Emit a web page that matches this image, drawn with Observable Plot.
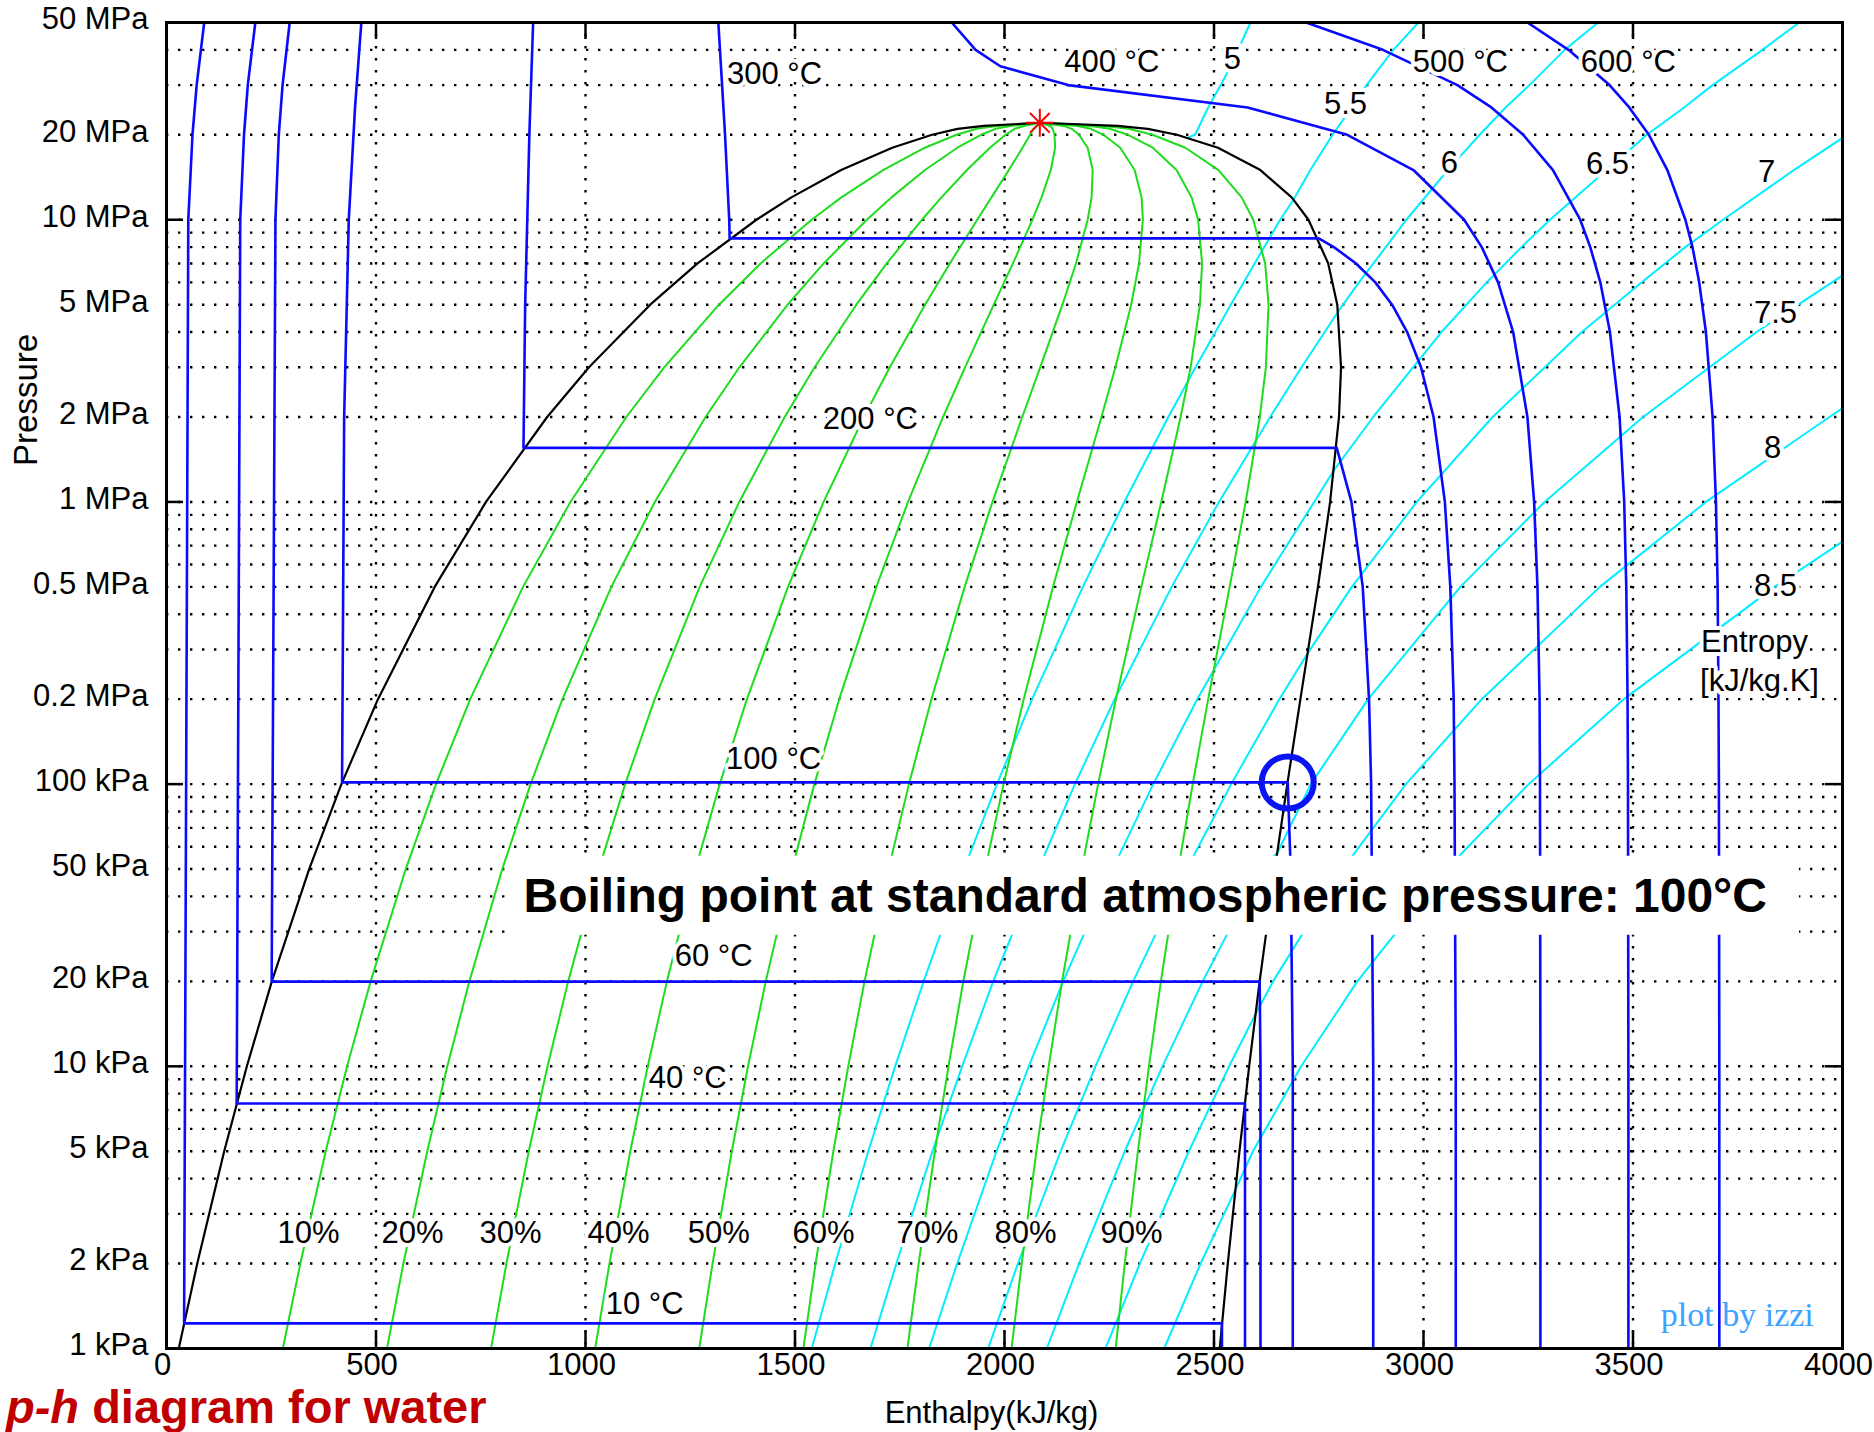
<!DOCTYPE html>
<html>
<head>
<meta charset="utf-8">
<script src="https://cdn.jsdelivr.net/npm/d3@7"></script>
<script src="https://cdn.jsdelivr.net/npm/@observablehq/plot@0.6"></script>
<style>
  body { margin: 0; background: #fff; }
  #wrap { position: relative; width: 1874px; height: 1432px; overflow: hidden; background: #fff; }
  #title { position: absolute; left: 6px; top: 1383px; font: bold 47px 'Liberation Sans', Arial, sans-serif; color: #c00000; line-height: 47px; white-space: nowrap; }
  svg text { paint-order: stroke; }
</style>
</head>
<body>
<div id="wrap"><div id="chart"></div><div id="title"><i>p-h</i> diagram for water</div></div>
<script>
// ---------- axes ----------
const xTickValues = [0, 500, 1000, 1500, 2000, 2500, 3000, 3500, 4000];
const yTickValues = [1, 2, 5, 10, 20, 50, 100, 200, 500, 1000, 2000, 5000, 10000, 20000, 50000];
const yTickLabels = ["1 kPa", "2 kPa", "5 kPa", "10 kPa", "20 kPa", "50 kPa", "100 kPa", "0.2 MPa", "0.5 MPa", "1 MPa", "2 MPa", "5 MPa", "10 MPa", "20 MPa", "50 MPa"];
const yMajorTicks = [10, 100, 1000, 10000];
const xAxisLabel = "Enthalpy(kJ/kg)";
const yAxisLabel = "Pressure";
const yAxisLabelP = 2300;

// ---------- saturation dome (P in kPa, h in kJ/kg) ----------
const satP  = [1, 2, 5, 10, 20, 50, 100, 200, 500, 1000, 2000, 3000, 5000, 7000, 10000, 12000, 15000, 18000, 20000, 21000, 21500, 22064];
const satHf = [29.3, 73.4, 137.7, 191.8, 251.4, 340.5, 417.4, 504.7, 640.1, 762.5, 908.5, 1008.3, 1154.5, 1267.4, 1407.9, 1491.3, 1610.2, 1732.0, 1827.2, 1888, 1950, 2084.3];
const satHg = [2513.7, 2532.9, 2560.7, 2583.9, 2608.9, 2645.2, 2674.9, 2706.2, 2748.1, 2777.1, 2798.3, 2803.2, 2794.2, 2772.6, 2725.5, 2685.4, 2610.7, 2509.5, 2411.4, 2342, 2270, 2084.3];
const criticalH = 2084.3, criticalP = 22064;

// ---------- quality lines (h at each satP) ----------
const q10 = [277.7, 319.4, 380.0, 431.0, 487.2, 571.0, 643.2, 724.9, 850.9, 964.0, 1097.5, 1187.8, 1318.5, 1417.9, 1539.7, 1610.7, 1710.3, 1809.8, 1885.6, 1933.4, 1982, 2084.3];
const q20 = [526.2, 565.3, 622.3, 670.2, 722.9, 801.4, 868.9, 945.0, 1061.7, 1165.4, 1286.5, 1367.3, 1482.4, 1568.4, 1671.4, 1730.1, 1810.3, 1887.5, 1944.0, 1978.8, 2014, 2084.3];
const q30 = [774.6, 811.3, 864.6, 909.4, 958.7, 1031.9, 1094.7, 1165.2, 1272.5, 1366.9, 1475.4, 1546.8, 1646.4, 1719.0, 1803.2, 1849.5, 1910.4, 1965.3, 2002.5, 2024.2, 2046, 2084.3];
const q40 = [1023.1, 1057.2, 1106.9, 1148.6, 1194.4, 1262.4, 1320.4, 1385.3, 1483.3, 1568.3, 1664.4, 1726.3, 1810.4, 1869.5, 1934.9, 1968.9, 2010.4, 2043.0, 2060.9, 2069.6, 2078, 2084.3];
const q50 = [1271.5, 1303.2, 1349.2, 1387.9, 1430.2, 1492.9, 1546.2, 1605.5, 1694.1, 1769.8, 1853.4, 1905.8, 1974.4, 2020.0, 2066.7, 2088.4, 2110.5, 2120.8, 2119.3, 2115.0, 2110, 2084.3];
const q60 = [1519.9, 1549.1, 1591.5, 1627.1, 1665.9, 1723.3, 1771.9, 1825.6, 1904.9, 1971.3, 2042.4, 2085.2, 2138.3, 2170.5, 2198.5, 2207.8, 2210.5, 2198.5, 2177.7, 2160.4, 2142, 2084.3];
const q70 = [1768.4, 1795.1, 1833.8, 1866.3, 1901.7, 1953.8, 1997.7, 2045.8, 2115.7, 2172.7, 2231.4, 2264.7, 2302.3, 2321.0, 2330.2, 2327.2, 2310.6, 2276.3, 2236.1, 2205.8, 2174, 2084.3];
const q80 = [2016.8, 2041.0, 2076.1, 2105.5, 2137.4, 2184.3, 2223.4, 2265.9, 2326.5, 2374.2, 2420.3, 2444.2, 2466.3, 2471.6, 2462.0, 2446.6, 2410.6, 2354.0, 2294.6, 2251.2, 2206, 2084.3];
const q90 = [2265.3, 2287.0, 2318.4, 2344.7, 2373.2, 2414.7, 2449.2, 2486.1, 2537.3, 2575.6, 2609.3, 2623.7, 2630.2, 2622.1, 2593.7, 2566.0, 2510.7, 2431.8, 2353.0, 2296.6, 2238, 2084.3];
const qualityNames = ["10%", "20%", "30%", "40%", "50%", "60%", "70%", "80%", "90%"];
const qualityLabelH = [339, 587, 821, 1079, 1318, 1568, 1816, 2050, 2303];
const qualityLabelP = 2.56;

// ---------- isotherms ----------
const iso10H = [90, 72, 62, 52, 42, 2519, 2519];
const iso10P = [50000, 30000, 20000, 10000, 1.228, 1.228, 1];
const iso40H = [212, 194, 185, 176, 167.5, 2574, 2574];
const iso40P = [50000, 30000, 20000, 10000, 7.38, 7.38, 1];
const iso60H = [294, 277, 268, 260, 251, 2609, 2611, 2611];
const iso60P = [50000, 30000, 20000, 10000, 19.95, 19.95, 10, 1];
const iso100H = [465, 450, 435, 424, 419, 2676, 2683, 2688, 2688];
const iso100P = [50000, 25000, 10000, 2000, 101.4, 101.4, 50, 10, 1];
const iso200H = [875, 866, 861, 856, 852, 2793, 2828, 2855, 2870, 2875, 2880, 2880];
const iso200P = [50000, 20000, 10000, 5000, 1555, 1555, 1000, 500, 200, 100, 10, 1];
const iso300H = [1317, 1326, 1333, 1343, 1344, 2750, 2786, 2839, 2885, 2925, 2961, 2994, 3024, 3051, 3064, 3072, 3074, 3077, 3077];
const iso300P = [50000, 30000, 20000, 10000, 8588, 8588, 8000, 7000, 6000, 5000, 4000, 3000, 2000, 1000, 500, 200, 100, 10, 1];
const iso400H = [1874, 1931, 1990, 2152, 2580, 2818, 2976, 3097, 3139, 3178, 3214, 3248, 3264, 3272, 3277, 3278, 3279, 3279];
const iso400P = [50000, 40000, 35000, 30000, 25000, 20000, 15000, 10000, 8000, 6000, 4000, 2000, 1000, 500, 200, 100, 10, 1];
const iso500H = [2720, 2903, 3081, 3162, 3238, 3309, 3374, 3398, 3422, 3445, 3468, 3479, 3484, 3487, 3488, 3489, 3489];
const iso500P = [50000, 40000, 30000, 25000, 20000, 15000, 10000, 8000, 6000, 4000, 2000, 1000, 500, 200, 100, 10, 1];
const iso600H = [3248, 3346, 3444, 3491, 3538, 3582, 3625, 3642, 3658, 3674, 3690, 3698, 3702, 3704, 3705, 3706, 3706];
const iso600P = [50000, 40000, 30000, 25000, 20000, 15000, 10000, 8000, 6000, 4000, 2000, 1000, 500, 200, 100, 10, 1];

// ---------- isentropes (s in kJ/kg.K) ----------
const s50H = [2587, 2540, 2516, 2486, 2455, 2436];
const s50P = [50000, 35000, 30000, 25000, 20000, 19500];
const s55H = [2988, 2928, 2864, 2829, 2783, 2730, 2690, 2658, 2597, 2540, 2456, 2391, 2286, 2187, 2066, 1982, 1903, 1807, 1739, 1675, 1596, 1540];
const s55P = [50000, 40000, 30000, 25000, 20000, 15000, 11800, 10000, 7000, 5000, 3000, 2000, 1000, 500, 200, 100, 50, 20, 10, 5, 2, 1];
const s60H = [3417, 3337, 3253, 3196, 3134, 3058, 2959, 2910, 2846, 2808, 2796, 2709, 2634, 2512, 2399, 2263, 2168, 2081, 1973, 1899, 1828, 1742, 1680];
const s60P = [50000, 40000, 30000, 25000, 20000, 15000, 10000, 8000, 6000, 5000, 4720, 3000, 2000, 1000, 500, 200, 100, 50, 20, 10, 5, 2, 1];
const s65H = [3897, 3809, 3690, 3622, 3533, 3437, 3302, 3234, 3151, 3043, 2880, 2787, 2739, 2612, 2460, 2355, 2258, 2140, 2058, 1981, 1887, 1820];
const s65P = [50000, 40000, 30000, 25000, 20000, 15000, 10000, 8000, 6000, 4000, 2000, 1300, 1000, 500, 200, 100, 50, 20, 10, 5, 2, 1];
const s70H = [4000, 3884, 3715, 3625, 3521, 3378, 3165, 2984, 2829, 2723, 2656, 2541, 2435, 2307, 2217, 2134, 2032, 1961];
const s70P = [19500, 15000, 10000, 8000, 6000, 4000, 2000, 1000, 500, 290, 200, 100, 50, 20, 10, 5, 2, 1];
const s75H = [4000, 3975, 3795, 3524, 3289, 3088, 2868, 2731, 2651, 2612, 2473, 2377, 2287, 2178, 2101];
const s75P = [6350, 6000, 4000, 2000, 1000, 500, 200, 100, 57, 50, 20, 10, 5, 2, 1];
const s80H = [4000, 3969, 3674, 3421, 3139, 2958, 2807, 2641, 2599, 2536, 2440, 2323, 2241];
const s80P = [2150, 2000, 1000, 500, 200, 100, 50, 20, 15.3, 10, 5, 2, 1];
const s85H = [4000, 3838, 3478, 3251, 3055, 2842, 2708, 2593, 2553, 2468, 2381];
const s85P = [723, 500, 200, 100, 50, 20, 10, 5, 3.7, 2, 1];

// ---------- labels (placed at data coordinates) ----------
const isoLabelText = ["300 °C", "400 °C", "500 °C", "600 °C", "200 °C", "100 °C", "60 °C", "40 °C", "10 °C"];
const isoLabelH    = [1451, 2256, 3088, 3489, 1680, 1449, 1306, 1244, 1141];
const isoLabelP    = [32700, 36300, 36300, 36300, 1970, 123, 24.6, 9.07, 1.44];
const sLabelText = ["5", "5.5", "6", "6.5", "7", "7.5", "8", "8.5", "Entropy", "[kJ/kg.K]"];
const sLabelH    = [2544, 2814, 3062, 3439, 3819, 3840, 3833, 3840, 3790, 3802];
const sLabelP    = [37200, 25600, 15900, 15700, 14700, 4680, 1550, 504, 319, 232];
const creditText = "plot by izzi";
const creditH = 3749, creditP = 1.31;
const boilText = "Boiling point at standard atmospheric pressure: 100°C";
const boilTextH = 852, boilTextP = 40;
const boilCircleH = 2676, boilCircleP = 101.4;

// ---------- build rows ----------
const rows = (name, H, P) => H.map((h, i) => ({name, h, p: P[i]}));
const domeRows = [
  ...rows("liq", satHf, satP),
  ...rows("vap", satHg.slice().reverse(), satP.slice().reverse())
];
const qualityArrays = [q10, q20, q30, q40, q50, q60, q70, q80, q90];
const qualityRows = qualityArrays.flatMap((q, k) => rows(qualityNames[k], q, satP));
const isoRows = [
  rows("10", iso10H, iso10P), rows("40", iso40H, iso40P), rows("60", iso60H, iso60P),
  rows("100", iso100H, iso100P), rows("200", iso200H, iso200P), rows("300", iso300H, iso300P),
  rows("400", iso400H, iso400P), rows("500", iso500H, iso500P), rows("600", iso600H, iso600P)
].flat();
const sRows = [
  rows("5", s50H, s50P), rows("5.5", s55H, s55P), rows("6", s60H, s60P), rows("6.5", s65H, s65P),
  rows("7", s70H, s70P), rows("7.5", s75H, s75P), rows("8", s80H, s80P), rows("8.5", s85H, s85P)
].flat();
const isoLabels = isoLabelText.map((t, i) => ({t, h: isoLabelH[i], p: isoLabelP[i]}));
const sLabels = sLabelText.map((t, i) => ({t, h: sLabelH[i], p: sLabelP[i]}));
const qLabels = qualityNames.map((t, i) => ({t, h: qualityLabelH[i], p: qualityLabelP}));
const yTicks = yTickValues.map((v, i) => ({v, label: yTickLabels[i]}));
const yGridValues = [1, 10, 100, 1000, 10000].flatMap(d => [1,2,3,4,5,6,7,8,9].map(k => k * d)).filter(v => v > 1 && v < 50000);
const xGridValues = xTickValues.filter(v => v > 0 && v < 4000);

const W = 1874, H = 1432, mL = 166, mR = 32, mT = 22, mB = 84;
const innerW = W - mL - mR, innerH = H - mT - mB, tickLen = 17;
const FONT = "'Liberation Sans', Arial, sans-serif";
const halo = {fill: "black", stroke: "white", strokeWidth: 8, strokeLinejoin: "round", fontSize: 31};
const dotted = {stroke: "black", strokeOpacity: 1, strokeWidth: 2.4, strokeDasharray: "2.4 9.6"};

const chart = Plot.plot({
  width: W, height: H,
  marginLeft: mL, marginRight: mR, marginTop: mT, marginBottom: mB,
  x: {domain: [0, 4000]},
  y: {type: "log", domain: [1, 50000], axis: null},
  style: {fontFamily: FONT, fontSize: "31px", background: "white", color: "black", overflow: "visible"},
  marks: [
    Plot.gridY(yGridValues, dotted),
    Plot.gridX(xGridValues, dotted),
    Plot.line(sRows, {x: "h", y: "p", z: "name", stroke: "#00eeff", strokeWidth: 2, clip: true}),
    Plot.line(qualityRows, {x: "h", y: "p", z: "name", stroke: "#1fdc1f", strokeWidth: 2, clip: true}),
    Plot.line(domeRows, {x: "h", y: "p", stroke: "black", strokeWidth: 2.2, clip: true}),
    Plot.line(isoRows, {x: "h", y: "p", z: "name", stroke: "#0a0aff", strokeWidth: 2.6, clip: true}),
    Plot.text(isoLabels, {x: "h", y: "p", text: "t", ...halo}),
    Plot.text(sLabels, {x: "h", y: "p", text: "t", ...halo}),
    Plot.text(qLabels, {x: "h", y: "p", text: "t", ...halo}),
    Plot.text([creditText], {x: () => creditH, y: () => creditP, text: d => d, fill: "#3aa2ff", fontSize: 34, fontFamily: "'Liberation Serif', 'Times New Roman', serif"}),
    Plot.dot([criticalH], {x: d => d, y: () => criticalP, symbol: "plus", r: 9, stroke: "red", strokeWidth: 2}),
    Plot.dot([criticalH], {x: d => d, y: () => criticalP, symbol: "times", r: 9, stroke: "red", strokeWidth: 2}),
    Plot.frame({stroke: "black", strokeWidth: 3}),
    Plot.tickX(xTickValues, {x: d => d, insetTop: innerH - tickLen, stroke: "black", strokeWidth: 2.5}),
    Plot.tickX(xTickValues, {x: d => d, insetBottom: innerH - tickLen, stroke: "black", strokeWidth: 2.5}),
    Plot.tickY(yMajorTicks, {y: d => d, insetRight: innerW - tickLen, stroke: "black", strokeWidth: 2.5}),
    Plot.tickY(yMajorTicks, {y: d => d, insetLeft: innerW - tickLen, stroke: "black", strokeWidth: 2.5}),
    Plot.axisX({ticks: xTickValues, tickSize: 0, tickPadding: 4, dx: -4, fontSize: 31, label: null, tickFormat: d => String(d)}),
    Plot.text(yTicks, {y: "v", text: "label", frameAnchor: "left", textAnchor: "end", dx: -18, dy: -3, fontSize: 31, fill: "black"}),
    Plot.text([xAxisLabel], {frameAnchor: "bottom", text: d => d, dy: 74, dx: -13, fontSize: 31, fill: "black"}),
    Plot.text([yAxisLabel], {frameAnchor: "left", y: () => yAxisLabelP, text: d => d, rotate: -90, textAnchor: "middle", dx: -140, fontSize: 33, fill: "black"}),
    Plot.text([boilText], {x: () => boilTextH, y: () => boilTextP, text: d => d, textAnchor: "start", fontWeight: "bold", fontSize: 48, fill: "black"}),
    Plot.dot([boilCircleH], {x: d => d, y: () => boilCircleP, r: 26, stroke: "#0a14f0", strokeWidth: 6, fill: "none"})
  ]
});
document.getElementById("chart").appendChild(chart);

// white box behind the annotation (same coordinate system as the text element)
const boilEl = Array.from(chart.querySelectorAll("text")).find(t => t.textContent === boilText);
if (boilEl) {
  const bb = boilEl.getBBox();
  const rect = document.createElementNS("http://www.w3.org/2000/svg", "rect");
  rect.setAttribute("x", bb.x - 10);
  rect.setAttribute("y", bb.y - 13);
  rect.setAttribute("width", bb.width + 42);
  rect.setAttribute("height", bb.height + 26);
  rect.setAttribute("fill", "white");
  rect.setAttribute("stroke", "none");
  const tf = boilEl.getAttribute("transform");
  if (tf) rect.setAttribute("transform", tf);
  boilEl.parentNode.insertBefore(rect, boilEl);
}
</script>
</body>
</html>
